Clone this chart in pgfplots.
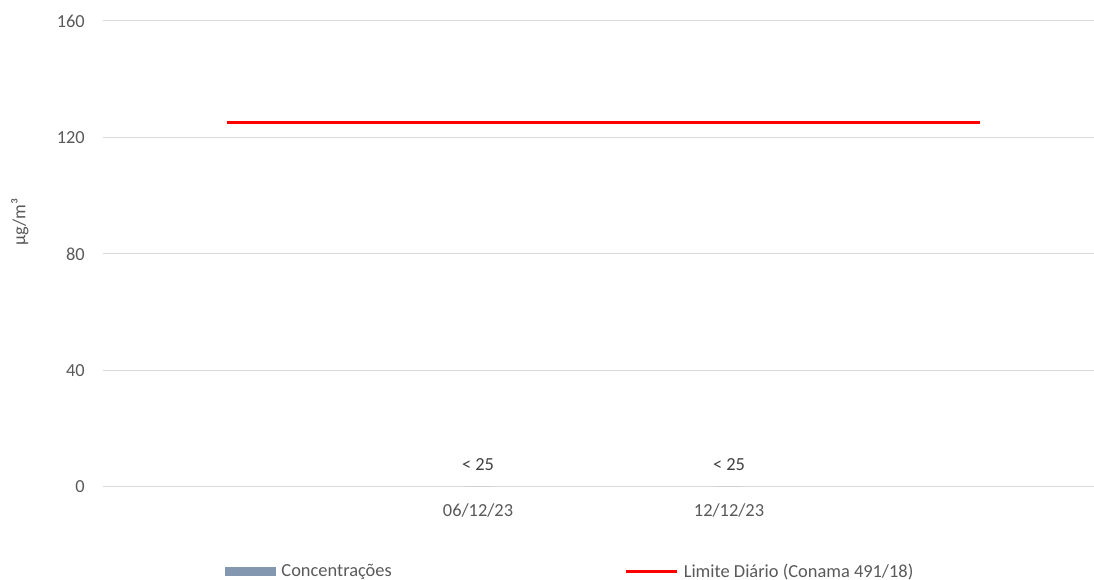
\documentclass[border=0pt]{standalone}
\usepackage{pgfplots}
\pgfplotsset{compat=1.18}
\usepackage{fontspec}
\setmainfont{Carlito}
\definecolor{txt}{HTML}{595959}
\definecolor{lbl}{HTML}{404040}
\definecolor{grd}{HTML}{D9D9D9}
\definecolor{barc}{HTML}{8497B0}
\begin{document}
\fontsize{13.8}{16.5}\selectfont
\begin{tikzpicture}
\begin{axis}[
  scale only axis, width=743.25pt, height=349.5pt,
  xmin=-0.494, xmax=3.454, ymin=0, ymax=160,
  ytick={0,40,80,120,160},
  xtick={1,2}, xticklabels={06/12/23,12/12/23},
  axis line style={draw=none},
  major tick length=0pt,
  ymajorgrids, grid style={grd, line width=0.75pt},
  /pgf/number format/assume math mode=true,
  yticklabel style={anchor=east, inner sep=0pt, xshift=-13.5pt, text=txt},
  xticklabel style={anchor=center, inner sep=0pt, yshift=-18pt, text=txt},
  ylabel={µg/m³},
  ylabel style={at={(rel axis cs:-0.0838,0.569)}, anchor=center, text=txt},
  legend columns=2,
  legend style={at={(0.123,-0.182)}, anchor=west, draw=none, fill=none, inner sep=0pt,
    /tikz/every odd column/.append style={column sep=2pt},
    /tikz/every even column/.append style={column sep=172.5pt}, text=txt},
  clip=false,
]
\addplot[ybar, bar width=20pt, fill=barc, draw=none,
  nodes near coords={< 25},
  every node near coord/.append style={anchor=center, yshift=16.5pt, text=lbl},
  legend image code/.code={\fill[barc] (0pt,-3.4pt) rectangle (38.25pt,3.4pt);}]
  coordinates {(1,0) (2,0)};
\addlegendentry{Concentrações}
\addplot[red, line width=2.25pt, mark=none,
  legend image code/.code={\draw[red, line width=2.25pt] (0pt,0pt) -- (38.25pt,0pt);}]
  coordinates {(0,125) (3,125)};
\addlegendentry{Limite Diário (Conama 491/18)}
\coordinate (SW) at (rel axis cs:0,0);
\coordinate (NE) at (rel axis cs:1,1);
\end{axis}
\pgfresetboundingbox
\path ([xshift=-77.25pt,yshift=-69.75pt]SW) rectangle ([yshift=15.75pt]NE);
\end{tikzpicture}
\end{document}
